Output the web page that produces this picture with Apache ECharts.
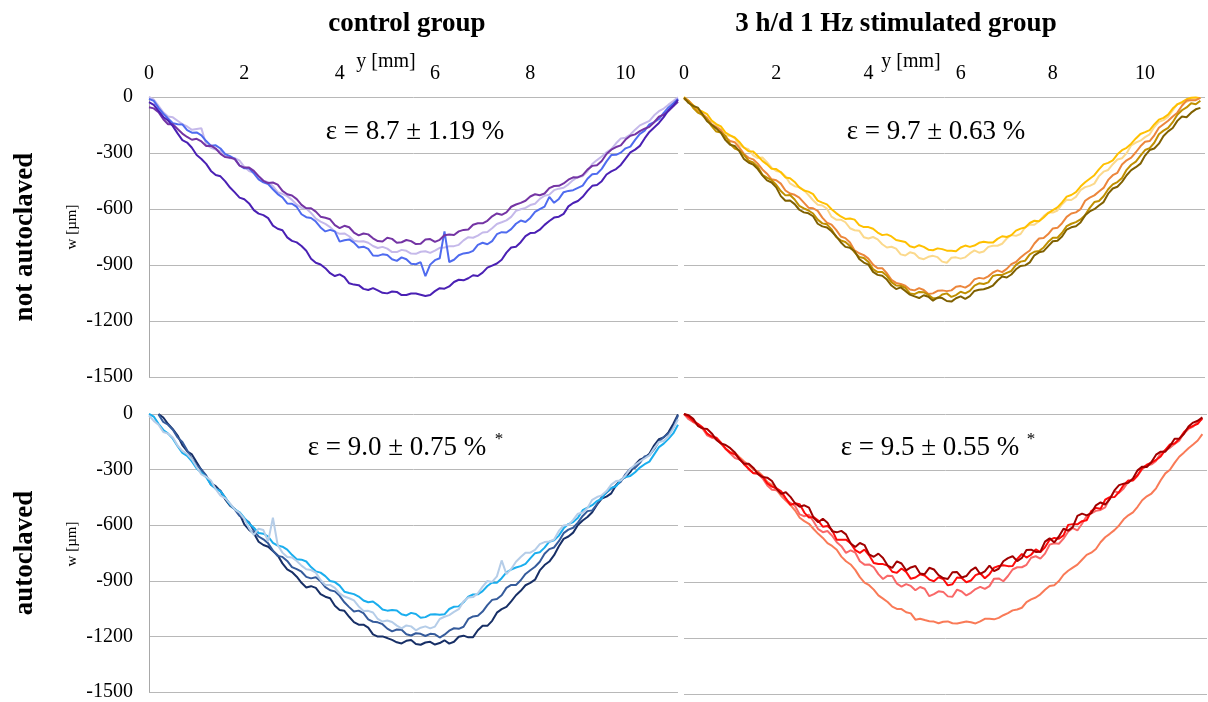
<!DOCTYPE html>
<html>
<head>
<meta charset="utf-8">
<script src="https://cdn.jsdelivr.net/npm/echarts@6/dist/echarts.min.js"></script>
<style>
  html, body { margin: 0; padding: 0; background: #fff; }
  #chart { width: 1208px; height: 702px; }
</style>
</head>
<body>
<div id="chart"></div>
<script>
// Sample positions along the specimen, y [mm] (0.1 mm spacing)
const posLeft = [0,0.1,0.2,0.3,0.4,0.5,0.6,0.7,0.8,0.9,1.0,1.1,1.2,1.3,1.4,1.5,1.6,1.7,1.8,1.9,2.0,2.1,2.2,2.3,2.4,2.5,2.6,2.7,2.8,2.9,3.0,3.1,3.2,3.3,3.4,3.5,3.6,3.7,3.8,3.9,4.0,4.1,4.2,4.3,4.4,4.5,4.6,4.7,4.8,4.9,5.0,5.1,5.2,5.3,5.4,5.5,5.6,5.7,5.8,5.9,6.0,6.1,6.2,6.3,6.4,6.5,6.6,6.7,6.8,6.9,7.0,7.1,7.2,7.3,7.4,7.5,7.6,7.7,7.8,7.9,8.0,8.1,8.2,8.3,8.4,8.5,8.6,8.7,8.8,8.9,9.0,9.1,9.2,9.3,9.4,9.5,9.6,9.7,9.8,9.9,10.0,10.1,10.2,10.3,10.4,10.5,10.6,10.7,10.8,10.9,11.0,11.1];
const posRight = [0,0.1,0.2,0.3,0.4,0.5,0.6,0.7,0.8,0.9,1.0,1.1,1.2,1.3,1.4,1.5,1.6,1.7,1.8,1.9,2.0,2.1,2.2,2.3,2.4,2.5,2.6,2.7,2.8,2.9,3.0,3.1,3.2,3.3,3.4,3.5,3.6,3.7,3.8,3.9,4.0,4.1,4.2,4.3,4.4,4.5,4.6,4.7,4.8,4.9,5.0,5.1,5.2,5.3,5.4,5.5,5.6,5.7,5.8,5.9,6.0,6.1,6.2,6.3,6.4,6.5,6.6,6.7,6.8,6.9,7.0,7.1,7.2,7.3,7.4,7.5,7.6,7.7,7.8,7.9,8.0,8.1,8.2,8.3,8.4,8.5,8.6,8.7,8.8,8.9,9.0,9.1,9.2,9.3,9.4,9.5,9.6,9.7,9.8,9.9,10.0,10.1,10.2,10.3,10.4,10.5,10.6,10.7,10.8,10.9,11.0,11.1,11.2];

// Deflection w [µm] — control group, not autoclaved
const ctrlNa1 = [-28,-42,-74,-107,-126,-156,-195,-231,-244,-272,-311,-332,-358,-396,-418,-425,-452,-485,-511,-539,-548,-570,-606,-625,-633,-649,-689,-706,-714,-752,-771,-779,-798,-824,-866,-888,-897,-917,-944,-959,-950,-965,-998,-1005,-1008,-1028,-1034,-1024,-1036,-1049,-1052,-1042,-1044,-1061,-1061,-1053,-1053,-1059,-1066,-1061,-1040,-1024,-1027,-1015,-991,-979,-982,-971,-955,-959,-941,-914,-903,-892,-872,-834,-806,-802,-778,-745,-729,-727,-711,-685,-664,-646,-641,-626,-586,-568,-557,-535,-503,-476,-471,-451,-415,-398,-386,-364,-330,-297,-282,-262,-222,-187,-163,-139,-108,-71,-47,-15];
const ctrlNa2 = [-55,-61,-82,-119,-146,-146,-171,-196,-214,-229,-224,-238,-262,-261,-276,-305,-322,-325,-333,-368,-378,-378,-396,-424,-449,-461,-458,-469,-503,-521,-528,-547,-578,-596,-596,-614,-641,-647,-655,-686,-702,-690,-698,-726,-741,-731,-736,-757,-772,-774,-754,-760,-781,-778,-766,-772,-788,-786,-764,-761,-776,-765,-741,-737,-739,-720,-712,-710,-684,-676,-677,-663,-639,-624,-631,-618,-588,-576,-567,-556,-533,-521,-526,-517,-488,-477,-476,-463,-443,-430,-431,-419,-389,-369,-366,-343,-305,-282,-268,-259,-228,-208,-200,-183,-170,-160,-135,-105,-95,-75,-50,-25];
const ctrlNa3 = [-10,-21,-58,-89,-115,-140,-146,-147,-178,-191,-190,-205,-236,-261,-259,-276,-306,-317,-331,-367,-382,-382,-409,-441,-457,-466,-494,-520,-538,-570,-572,-589,-628,-644,-648,-667,-699,-720,-712,-720,-775,-767,-763,-780,-806,-802,-814,-849,-851,-843,-847,-869,-878,-859,-869,-893,-896,-885,-960,-898,-874,-864,-720,-884,-872,-848,-838,-835,-824,-792,-781,-789,-772,-735,-724,-726,-708,-679,-662,-670,-648,-616,-601,-587,-535,-567,-546,-510,-503,-499,-487,-475,-438,-414,-411,-385,-345,-311,-310,-298,-275,-266,-230,-198,-180,-147,-135,-118,-85,-56,-35,-10];
const ctrlNa4 = [0,-14,-48,-82,-104,-109,-127,-145,-158,-176,-172,-168,-256,-272,-281,-290,-309,-328,-327,-341,-374,-397,-406,-425,-449,-457,-477,-510,-519,-531,-551,-577,-594,-597,-621,-652,-668,-680,-697,-721,-733,-731,-746,-770,-774,-773,-781,-798,-809,-803,-812,-831,-831,-819,-824,-839,-840,-829,-826,-835,-823,-808,-806,-800,-799,-792,-768,-751,-754,-743,-726,-723,-703,-680,-671,-661,-642,-610,-601,-594,-579,-572,-546,-529,-523,-499,-491,-486,-468,-445,-427,-424,-398,-359,-338,-319,-296,-279,-248,-222,-218,-201,-175,-152,-140,-128,-98,-76,-62,-41,-22,-2];

// 3 h/d 1 Hz stimulated group, not autoclaved
const stimNa1 = [0,-20,-44,-69,-78,-92,-126,-145,-157,-191,-206,-217,-241,-271,-291,-292,-316,-342,-361,-384,-386,-403,-431,-435,-455,-484,-501,-507,-520,-555,-566,-575,-601,-622,-640,-653,-651,-657,-686,-697,-697,-706,-726,-740,-736,-747,-766,-771,-777,-800,-806,-794,-803,-818,-821,-811,-815,-823,-824,-826,-806,-796,-803,-796,-781,-775,-779,-780,-760,-746,-750,-740,-716,-705,-699,-675,-663,-666,-645,-622,-606,-591,-565,-534,-525,-510,-480,-457,-438,-419,-388,-361,-353,-340,-307,-285,-272,-250,-222,-198,-188,-177,-147,-121,-112,-94,-62,-40,-27,-12,-4,-2,-6];
const stimNa2 = [-12,-25,-52,-66,-101,-124,-131,-150,-176,-207,-206,-220,-257,-271,-280,-313,-327,-324,-349,-379,-396,-402,-424,-463,-478,-483,-499,-525,-553,-577,-581,-598,-641,-657,-657,-671,-703,-714,-716,-751,-758,-750,-763,-789,-806,-802,-812,-843,-849,-832,-838,-863,-869,-856,-851,-858,-882,-888,-861,-859,-866,-859,-838,-822,-834,-828,-803,-797,-797,-786,-758,-739,-744,-734,-698,-684,-684,-665,-638,-619,-619,-608,-574,-551,-552,-535,-499,-483,-476,-464,-424,-400,-391,-360,-335,-328,-301,-259,-244,-234,-215,-200,-161,-133,-124,-105,-72,-37,-34,-26,-8,-10,-5];
const stimNa3 = [-5,-20,-49,-81,-91,-113,-146,-161,-177,-216,-236,-242,-271,-305,-326,-334,-357,-388,-411,-441,-446,-464,-501,-517,-524,-539,-566,-593,-596,-610,-646,-673,-684,-712,-747,-756,-779,-822,-837,-847,-866,-898,-917,-917,-944,-980,-996,-1002,-1011,-1031,-1036,-1024,-1034,-1055,-1052,-1038,-1036,-1040,-1036,-1016,-1013,-1021,-1006,-977,-969,-973,-961,-940,-929,-938,-921,-895,-884,-860,-840,-822,-785,-758,-756,-734,-704,-701,-676,-642,-624,-618,-601,-556,-539,-527,-506,-487,-444,-419,-406,-362,-339,-325,-296,-264,-240,-236,-205,-165,-146,-127,-104,-84,-47,-19,-17,-17,-5];
const stimNa4 = [-8,-24,-59,-83,-96,-120,-156,-185,-190,-209,-251,-276,-286,-310,-341,-351,-374,-417,-432,-446,-470,-504,-527,-525,-549,-583,-597,-608,-624,-657,-677,-682,-709,-750,-768,-777,-798,-832,-857,-862,-884,-922,-938,-937,-958,-992,-1010,-1011,-1022,-1052,-1056,-1044,-1046,-1060,-1078,-1078,-1058,-1052,-1071,-1061,-1043,-1052,-1039,-1010,-998,-1002,-993,-959,-953,-953,-942,-932,-899,-882,-877,-843,-829,-825,-806,-776,-754,-754,-727,-692,-679,-670,-656,-633,-594,-563,-557,-532,-494,-468,-456,-434,-390,-363,-346,-314,-284,-274,-245,-200,-180,-165,-135,-95,-71,-56,-33,-39,-20];
const stimNa5 = [-4,-32,-48,-57,-92,-130,-149,-168,-191,-231,-256,-262,-290,-332,-351,-362,-386,-420,-447,-458,-484,-531,-556,-554,-574,-604,-618,-623,-639,-679,-693,-699,-719,-746,-778,-803,-808,-826,-868,-887,-898,-937,-953,-958,-978,-1010,-1029,-1020,-1039,-1059,-1068,-1077,-1062,-1070,-1091,-1074,-1077,-1093,-1096,-1078,-1068,-1082,-1067,-1039,-1033,-1030,-1022,-1010,-983,-962,-967,-951,-923,-905,-902,-886,-848,-832,-826,-799,-773,-770,-747,-710,-698,-692,-672,-634,-613,-601,-581,-563,-518,-490,-481,-455,-419,-392,-376,-357,-314,-284,-276,-250,-209,-184,-166,-128,-104,-108,-84,-66,-58];

// Control group, autoclaved
const ctrlAc1 = [null,null,0,-19,-54,-82,-116,-168,-201,-218,-261,-302,-336,-374,-389,-416,-461,-495,-514,-539,-596,-625,-644,-689,-707,-716,-739,-762,-806,-838,-853,-878,-911,-936,-929,-938,-972,-986,-994,-1035,-1057,-1062,-1094,-1123,-1137,-1137,-1153,-1189,-1201,-1200,-1209,-1219,-1232,-1238,-1224,-1219,-1241,-1245,-1233,-1229,-1244,-1236,-1221,-1239,-1229,-1202,-1196,-1205,-1204,-1167,-1143,-1143,-1116,-1072,-1053,-1041,-1011,-978,-954,-924,-911,-894,-844,-815,-796,-762,-714,-674,-661,-640,-599,-575,-556,-530,-489,-456,-446,-428,-384,-355,-341,-312,-274,-246,-236,-214,-169,-136,-126,-99,-54,-2];
const ctrlAc2 = [null,null,-2,-43,-58,-85,-126,-151,-196,-244,-276,-300,-331,-382,-401,-414,-452,-487,-516,-550,-566,-584,-631,-661,-676,-698,-737,-766,-771,-793,-826,-837,-851,-879,-887,-881,-902,-934,-951,-957,-981,-1016,-1042,-1066,-1061,-1074,-1108,-1121,-1124,-1134,-1158,-1173,-1163,-1164,-1188,-1195,-1183,-1186,-1198,-1186,-1189,-1206,-1191,-1169,-1156,-1159,-1148,-1106,-1092,-1089,-1066,-1031,-1003,-998,-978,-938,-922,-923,-897,-863,-843,-824,-797,-754,-729,-720,-686,-643,-624,-614,-586,-550,-524,-520,-487,-448,-424,-402,-386,-365,-324,-295,-291,-264,-229,-222,-190,-148,-124,-106,-74,-8];
const ctrlAc3 = [0,-14,-53,-86,-106,-133,-174,-210,-226,-256,-294,-317,-341,-381,-404,-417,-451,-489,-514,-530,-561,-591,-614,-642,-646,-661,-695,-710,-716,-732,-760,-784,-786,-796,-826,-849,-856,-875,-901,-907,-926,-959,-966,-972,-985,-1006,-1016,-1012,-1031,-1055,-1061,-1058,-1060,-1081,-1087,-1073,-1079,-1099,-1096,-1082,-1080,-1083,-1081,-1052,-1040,-1038,-1016,-985,-974,-973,-956,-928,-909,-910,-886,-855,-839,-828,-821,-809,-779,-751,-746,-721,-689,-682,-656,-617,-594,-583,-560,-519,-505,-492,-470,-456,-420,-399,-390,-356,-340,-334,-314,-289,-271,-257,-218,-179,-160,-134,-105,-58];
const ctrlAc4 = [-8,-37,-58,-97,-106,-127,-170,-199,-216,-244,-286,-326,-339,-359,-406,-440,-455,-482,-516,-533,-566,-617,-652,-619,-626,-687,-560,-707,-748,-772,-774,-793,-818,-838,-842,-856,-896,-923,-922,-938,-968,-985,-994,-1006,-1038,-1063,-1062,-1071,-1106,-1120,-1114,-1122,-1142,-1157,-1141,-1146,-1167,-1153,-1146,-1157,-1147,-1106,-1094,-1085,-1068,-1053,-1011,-990,-988,-967,-931,-901,-906,-876,-790,-864,-836,-797,-772,-749,-748,-733,-702,-691,-688,-677,-631,-601,-598,-571,-538,-532,-507,-463,-448,-439,-416,-381,-362,-359,-331,-296,-274,-256,-240,-223,-184,-151,-146,-120,-78,-28];

// 3 h/d 1 Hz stimulated group, autoclaved
const stimAc1 = [0,-13,-42,-62,-78,-107,-123,-134,-158,-185,-204,-208,-232,-255,-273,-298,-308,-332,-364,-379,-406,-439,-463,-488,-517,-556,-574,-588,-616,-642,-664,-692,-707,-727,-764,-789,-806,-835,-874,-903,-917,-941,-972,-989,-1007,-1032,-1044,-1045,-1062,-1068,-1102,-1097,-1104,-1110,-1112,-1121,-1113,-1111,-1121,-1122,-1117,-1112,-1116,-1122,-1111,-1097,-1097,-1100,-1092,-1078,-1067,-1052,-1047,-1038,-1008,-993,-983,-966,-942,-921,-917,-895,-861,-840,-823,-807,-781,-755,-743,-723,-687,-660,-642,-622,-597,-564,-543,-527,-497,-462,-441,-426,-398,-355,-318,-299,-262,-229,-207,-183,-163,-142,-108];
const stimAc2 = [0,-28,-44,-56,-76,-115,-127,-133,-159,-188,-212,-236,-244,-259,-298,-316,-322,-345,-383,-406,-408,-426,-462,-476,-493,-538,-548,-540,-576,-617,-633,-627,-652,-687,-708,-744,-731,-742,-789,-807,-806,-821,-858,-884,-866,-868,-909,-925,-911,-921,-944,-927,-936,-976,-965,-950,-953,-977,-979,-941,-951,-972,-958,-938,-926,-937,-922,-882,-881,-896,-868,-833,-821,-821,-808,-770,-762,-775,-748,-700,-692,-695,-668,-631,-611,-624,-588,-547,-532,-519,-514,-500,-451,-414,-422,-399,-362,-356,-331,-296,-278,-270,-251,-209,-193,-181,-161,-143,-104,-80,-68,-39,-27];
const stimAc3 = [0,-15,-38,-53,-71,-105,-121,-127,-154,-186,-207,-216,-239,-270,-293,-318,-318,-336,-372,-389,-398,-414,-452,-487,-478,-483,-528,-555,-552,-571,-604,-600,-622,-674,-673,-673,-692,-729,-744,-726,-757,-798,-804,-804,-812,-845,-851,-828,-846,-883,-876,-859,-865,-887,-896,-875,-884,-918,-912,-876,-879,-901,-892,-863,-853,-880,-858,-823,-814,-810,-815,-814,-776,-750,-769,-754,-725,-740,-714,-674,-664,-668,-650,-594,-590,-591,-574,-569,-520,-503,-508,-459,-446,-445,-418,-380,-356,-355,-328,-290,-272,-261,-246,-227,-192,-163,-158,-134,-98,-75,-64,-53,-22];
const stimAc4 = [0,-7,-26,-63,-77,-80,-104,-139,-158,-166,-183,-206,-243,-267,-266,-289,-322,-338,-341,-359,-401,-428,-419,-444,-478,-497,-489,-502,-556,-580,-561,-583,-628,-634,-626,-645,-694,-712,-691,-702,-752,-765,-748,-771,-812,-824,-789,-801,-838,-822,-814,-854,-858,-824,-833,-863,-879,-884,-848,-847,-876,-868,-838,-822,-857,-843,-812,-842,-829,-789,-772,-762,-788,-771,-728,-727,-739,-738,-684,-666,-688,-656,-615,-625,-606,-546,-534,-543,-531,-489,-474,-485,-456,-409,-381,-373,-369,-345,-302,-282,-284,-257,-218,-202,-202,-172,-133,-132,-107,-67,-46,-36,-18];

// Axis ranges
const xMaxLeft = 11.1;
const xMaxRight = 11.3;
const wMin = -1500, wMax = 0, wStep = 300;

const SERIF = '"Liberation Serif", "Times New Roman", serif';

// One entry per panel: grid index, positions, curves (draw order) and colours
const panels = [
  { grid: 0, pos: posLeft,  curves: [ctrlNa4, ctrlNa3, ctrlNa2, ctrlNa1],
    colors: ['#c5b9ea', '#4f6bef', '#7434a4', '#4a20b4'] },
  { grid: 1, pos: posRight, curves: [stimNa2, stimNa1, stimNa3, stimNa4, stimNa5],
    colors: ['#fbd98c', '#ffc000', '#ec863c', '#c09000', '#7f6000'] },
  { grid: 2, pos: posLeft,  curves: [ctrlAc1, ctrlAc2, ctrlAc3, ctrlAc4],
    colors: ['#172f66', '#355b9b', '#1aaeee', '#b5cde8'] },
  { grid: 3, pos: posRight, curves: [stimAc1, stimAc2, stimAc3, stimAc4],
    colors: ['#f97a57', '#f96868', '#ff0a0a', '#a00000'] }
];

function toPairs(pos, vals) {
  return vals.map((v, i) => [pos[i], v]).filter(p => p[1] !== null);
}

const series = [];
panels.forEach(p => {
  p.curves.forEach((c, k) => {
    series.push({
      type: 'line',
      xAxisIndex: p.grid,
      yAxisIndex: p.grid,
      data: toPairs(p.pos, c),
      showSymbol: false,
      symbol: 'none',
      smooth: false,
      lineStyle: { color: p.colors[k], width: 2 },
      itemStyle: { color: p.colors[k] },
      silent: true,
      animation: false
    });
  });
});

const grids = [
  { left: 149, top: 97,  width: 529, height: 280 },
  { left: 684, top: 97,  width: 523, height: 280 },
  { left: 149, top: 414, width: 529, height: 280 },
  { left: 684, top: 414, width: 523, height: 280 }
];

function xAxisFor(i) {
  const max = (i % 2 === 0) ? xMaxLeft : xMaxRight;
  const top = i < 2;
  return {
    gridIndex: i, type: 'value', min: 0, max: max, interval: 2,
    position: 'top',
    show: top,
    axisLine: { show: false },
    axisTick: { show: false },
    splitLine: { show: false },
    axisLabel: {
      show: top, fontFamily: SERIF, fontSize: 20, color: '#000', margin: 13,
      formatter: v => (Math.abs(v % 2) < 1e-9 ? String(v) : '')
    }
  };
}

function yAxisFor(i) {
  const left = i % 2 === 0;
  return {
    gridIndex: i, type: 'value', min: wMin, max: wMax, interval: wStep,
    axisLine: { show: left, lineStyle: { color: '#a8a8a8', width: 1 } },
    axisTick: { show: false },
    axisLabel: {
      show: left, fontFamily: SERIF, fontSize: 20, color: '#000', margin: 16,
      formatter: v => String(v)
    },
    splitLine: { show: true, lineStyle: { color: '#b8b8b8', width: 1 } }
  };
}

function label(text, x, y, font, rotation) {
  return {
    type: 'text', x: x, y: y, rotation: rotation || 0, silent: true,
    style: {
      text: text, font: font, fill: '#000',
      align: 'center', verticalAlign: 'middle',
      textAlign: 'center', textVerticalAlign: 'middle'
    }
  };
}

const titleFont = 'bold 27px ' + SERIF;
const axisNameFont = '20px ' + SERIF;
const unitFont = '15px ' + SERIF;
const strainFont = '27px ' + SERIF;
const starFont = '17px ' + SERIF;

const graphic = [
  label('control group', 407, 24, titleFont),
  label('3 h/d 1 Hz stimulated group', 896, 24, titleFont),
  label('y [mm]', 386, 62, axisNameFont),
  label('y [mm]', 911, 62, axisNameFont),
  label('not autoclaved', 25, 237, titleFont, Math.PI / 2),
  label('autoclaved', 25, 553, titleFont, Math.PI / 2),
  label('w [µm]', 72, 227, unitFont, Math.PI / 2),
  label('w [µm]', 72, 544, unitFont, Math.PI / 2),
  label('ε = 8.7 ± 1.19 %', 415, 132, strainFont),
  label('ε = 9.7 ± 0.63 %', 936, 132, strainFont),
  label('ε = 9.0 ± 0.75 %', 397, 448, strainFont),
  label('*', 499, 440, starFont),
  label('ε = 9.5 ± 0.55 %', 930, 448, strainFont),
  label('*', 1031, 440, starFont)
];

const chart = echarts.init(document.getElementById('chart'), null, { renderer: 'canvas' });
chart.setOption({
  backgroundColor: '#ffffff',
  animation: false,
  grid: grids,
  xAxis: [0, 1, 2, 3].map(xAxisFor),
  yAxis: [0, 1, 2, 3].map(yAxisFor),
  series: series,
  graphic: graphic
});
</script>
</body>
</html>
